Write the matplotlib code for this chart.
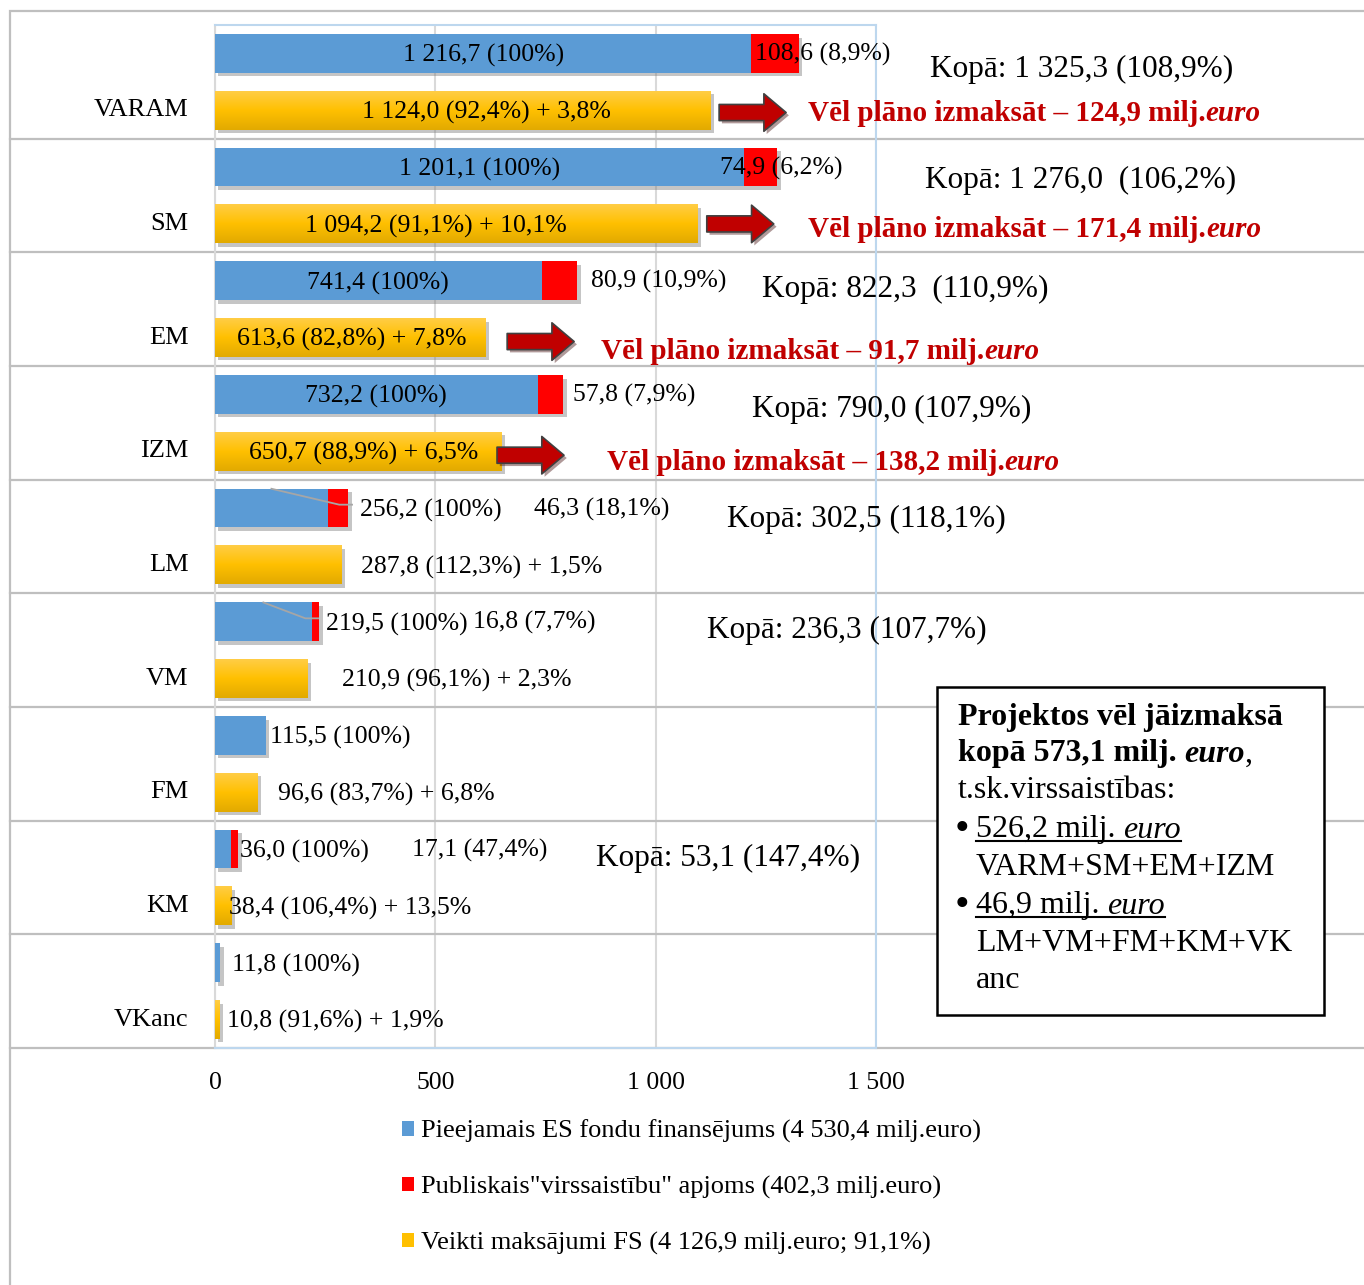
import numpy as np
import matplotlib.pyplot as plt
import matplotlib.transforms as mtransforms
import matplotlib.patheffects as pe
from matplotlib.patches import Patch, Rectangle
from matplotlib.lines import Line2D
from matplotlib.colors import LinearSegmentedColormap

plt.rcParams['font.family'] = ['Liberation Serif', 'DejaVu Serif']

# --- data (milj. euro) ---
categories = ['VARAM', 'SM', 'EM', 'IZM', 'LM', 'VM', 'FM', 'KM', 'VKanc']
available = [1216.7, 1201.1, 741.4, 732.2, 256.2, 219.5, 115.5, 36.0, 11.8]
overcommit = [108.6, 74.9, 80.9, 57.8, 46.3, 16.8, 0.0, 17.1, 0.0]
paid = [1124.0, 1094.2, 613.6, 650.7, 287.8, 210.9, 96.6, 38.4, 10.8]

blue_labels = ['1 216,7 (100%)', '1 201,1 (100%)', '741,4 (100%)', '732,2 (100%)',
               '256,2 (100%)', '219,5 (100%)', '115,5 (100%)', '36,0 (100%)', '11,8 (100%)']
red_labels = ['108,6 (8,9%)', '74,9 (6,2%)', '80,9 (10,9%)', '57,8 (7,9%)',
              '46,3 (18,1%)', '16,8 (7,7%)', '', '17,1 (47,4%)', '']
paid_labels = ['1 124,0 (92,4%) + 3,8%', '1 094,2 (91,1%) + 10,1%', '613,6 (82,8%) + 7,8%',
               '650,7 (88,9%) + 6,5%', '287,8 (112,3%) + 1,5%', '210,9 (96,1%) + 2,3%',
               '96,6 (83,7%) + 6,8%', '38,4 (106,4%) + 13,5%', '10,8 (91,6%) + 1,9%']
total_labels = {'VARAM': 'Kopā: 1 325,3 (108,9%)', 'SM': 'Kopā: 1 276,0  (106,2%)',
                'EM': 'Kopā: 822,3  (110,9%)', 'IZM': 'Kopā: 790,0 (107,9%)',
                'LM': 'Kopā: 302,5 (118,1%)', 'VM': 'Kopā: 236,3 (107,7%)',
                'KM': 'Kopā: 53,1 (147,4%)'}
still_to_pay = {'VARAM': '124,9', 'SM': '171,4', 'EM': '91,7', 'IZM': '138,2'}

legend_labels = ['Pieejamais ES fondu finansējums (4 530,4 milj.euro)',
                 'Publiskais"virssaistību" apjoms (402,3 milj.euro)',
                 'Veikti maksājumi FS (4 126,9 milj.euro; 91,1%)']
xticks = [0, 500, 1000, 1500]
xtick_labels = ['0', '500', '1 000', '1 500']

# --- label placement (data x, left aligned); None = centred in bar ---
blue_lab_x = [None, None, None, None, 329, 252, 125, 57, 39]
red_lab_x = [1225, 1146, 853, 812, 724, 585, None, 447, None]
paid_lab_x = [334, 204, 50, 77, 331, 288, 143, 32, 27]
total_pos = {'VARAM': (1622, -0.11), 'SM': (1611, -0.135), 'EM': (1241, -0.17),
             'IZM': (1218, -0.12), 'LM': (1162, -0.15), 'VM': (1116, -0.17),
             'KM': (865, -0.17)}
arrow_pos = {'VARAM': (1144, 0.27), 'SM': (1116, 0.25), 'EM': (663, 0.285), 'IZM': (640, 0.285)}
note_pos = {'VARAM': (1346, 0.28), 'SM': (1346, 0.30), 'EM': (876, 0.37), 'IZM': (889, 0.35)}

BLUE, RED, YELLOW = '#5B9BD5', '#FF0000', '#FFC000'
DARKRED = '#C00000'
W, H = 1364, 1285

fig = plt.figure(figsize=(W / 100, H / 100), dpi=100)
ax = fig.add_axes([215 / W, 1 - 1048 / H, 661 / W, (1048 - 25) / H])

n = len(categories)
pos = np.arange(n)
bh = 0.34
shadow = [pe.SimplePatchShadow(offset=(2.5, -2.5), shadow_rgbFace='#7f7f7f', alpha=0.45), pe.Normal()]

b1 = ax.barh(pos - 0.25, available, height=bh, color=BLUE, zorder=3)
b2 = ax.barh(pos - 0.25, overcommit, left=available, height=bh, color=RED, zorder=3)
b3 = ax.barh(pos + 0.25, paid, height=bh, color=YELLOW, zorder=3)
for bars in (b1, b3):
    for r in bars:
        r.set_path_effects(shadow)
for r, v in zip(b2, overcommit):
    if v > 0:
        r.set_path_effects(shadow)

# yellow gradient
ycmap = LinearSegmentedColormap.from_list('yel', ['#FFCD45', '#FFC000', '#E2AA00'])
grad = np.linspace(0, 1, 64).reshape(-1, 1)
for r in b3:
    x0, y0 = r.get_x(), r.get_y()
    ax.imshow(grad, cmap=ycmap, aspect='auto', origin='upper', zorder=3.5,
              extent=(x0, x0 + r.get_width(), y0 + r.get_height(), y0), interpolation='bilinear')

ax.set_xlim(0, 1500)
ax.set_ylim(n - 0.5, -0.5)

# axes styling
ax.set_xticks(xticks)
ax.set_xticklabels(xtick_labels, fontsize=18.5)
ax.tick_params(axis='x', length=0, pad=17)
ax.set_yticks([])
ax.xaxis.grid(True, color='#D9D9D9', lw=1.5, zorder=0)
ax.set_axisbelow(True)
for s in ('top', 'right', 'bottom'):
    ax.spines[s].set_color('#BDD7EE')
    ax.spines[s].set_linewidth(1.5)
ax.spines['left'].set_color('#D9D9D9')
ax.spines['left'].set_linewidth(1.5)

# row separators across the whole figure width
trans = mtransforms.blended_transform_factory(fig.transFigure, ax.transData)
for b in np.arange(n) + 0.5:
    ax.add_line(Line2D([10 / W, 1], [b, b], transform=trans, color='#BFBFBF', lw=1.6,
                       clip_on=False, zorder=1))
fig.patches.append(Rectangle((10 / W, -0.5), 2, 1.5 - 11 / H, transform=fig.transFigure,
                             fill=False, ec='#BFBFBF', lw=1.6))

FS = 18.5
for i, cat in enumerate(categories):
    yb, yy = i - 0.25, i + 0.25
    ax.text(-60, yy, cat, ha='right', va='center', fontsize=19)
    if blue_lab_x[i] is None:
        ax.text(available[i] / 2, yb + 0.02, blue_labels[i], ha='center', va='center', fontsize=FS, zorder=5)
    else:
        ax.text(blue_lab_x[i], yb + 0.02, blue_labels[i], ha='left', va='center', fontsize=FS, zorder=5)
    if red_lab_x[i] is not None:
        ax.text(red_lab_x[i], yb + 0.01, red_labels[i], ha='left', va='center', fontsize=FS, zorder=5)
    ax.text(paid_lab_x[i], yy + 0.02, paid_labels[i], ha='left', va='center', fontsize=FS, zorder=5)

# leader lines of moved labels
for i in (4, 5):
    lx = blue_lab_x[i]
    yb = i - 0.25
    ax.plot([available[i] / 2, lx - 47, lx - 18], [yb - 0.17, yb - 0.03, yb - 0.03],
            color='#A6A6A6', lw=1.3, zorder=4)

# totals
for cat, txt in total_labels.items():
    i = categories.index(cat)
    x, dy = total_pos[cat]
    ax.text(x, i + dy, txt, ha='left', va='center', fontsize=22.5, zorder=5)

# arrows and notes
for cat, amount in still_to_pay.items():
    i = categories.index(cat)
    x, dy = arrow_pos[cat]
    ax.annotate('', xy=(x + 152, i + dy), xytext=(x, i + dy),
                arrowprops=dict(arrowstyle='simple,head_length=0.8,head_width=1.35,tail_width=0.58',
                                fc=DARKRED, ec='#404040', lw=1.2, mutation_scale=20,
                                shrinkA=0, shrinkB=0, path_effects=[
                                    pe.SimplePatchShadow(offset=(2, -2), alpha=0.4), pe.Normal()]),
                zorder=6)
    nx, ndy = note_pos[cat]
    t1 = ax.text(nx, i + ndy, f'Vēl plāno izmaksāt – {amount} milj.', ha='left', va='center',
                 fontsize=21, fontweight='bold', color=DARKRED)
    ax.annotate('euro', xy=(1, 0), xycoords=t1, ha='left', va='bottom', fontsize=21,
                fontweight='bold', fontstyle='italic', color=DARKRED)

# legend
handles = [Patch(facecolor=c) for c in (BLUE, RED, YELLOW)]
fig.legend(handles, legend_labels, loc='upper left', bbox_to_anchor=(402 / W, 1 - 1120 / H),
           frameon=False, fontsize=19, handlelength=0.45, handleheight=0.45,
           handletextpad=0.28, labelspacing=1.24, borderpad=0, borderaxespad=0)

# summary box (drawn in ax so texts stack above the white box)
ax.add_patch(Rectangle((937 / W, 1 - 1015 / H), (1324 - 937) / W, (1015 - 687) / H,
                       transform=fig.transFigure, fc='white', ec='black', lw=1.8,
                       zorder=10, clip_on=False))


def ftext(px, py, s, **kw):
    kw.setdefault('fontsize', 23)
    return ax.text(px / W, 1 - py / H, s, va='center', ha='left', zorder=11,
                   transform=fig.transFigure, **kw)


def after(prev, s, **kw):
    kw.setdefault('fontsize', 23)
    return ax.annotate(s, xy=(1, 0), xycoords=prev, ha='left', va='bottom', zorder=11, **kw)


ftext(958, 718, 'Projektos vēl jāizmaksā', fontweight='bold')
k1 = ftext(958, 754, 'kopā 573,1 milj. ', fontweight='bold')
k2 = after(k1, 'euro', fontweight='bold', fontstyle='italic')
after(k2, ',')
ftext(958, 791, 't.sk.virssaistības:')

underlined = []
for py, amt, lines in ((830, '526,2', ['VARM+SM+EM+IZM']), (906, '46,9', ['LM+VM+FM+KM+VK', 'anc'])):
    ftext(955, py, '•', fontsize=30)
    u1 = ftext(976, py, f'{amt} milj. ')
    u2 = after(u1, 'euro', fontstyle='italic')
    underlined.append((u1, u2))
    for j, ln in enumerate(lines):
        ftext(976, py + 37.5 * (j + 1), ln)

fig.canvas.draw()
renderer = fig.canvas.get_renderer()
inv = fig.transFigure.inverted()
for u1, u2 in underlined:
    e1 = u1.get_window_extent(renderer)
    e2 = u2.get_window_extent(renderer)
    yline = e1.y0 + 0.216 * 23 * 100 / 72 - 3
    (fx0, fy), (fx1, _) = inv.transform([(e1.x0, yline), (e2.x1, yline)])
    ax.add_line(Line2D([fx0, fx1], [fy, fy], transform=fig.transFigure, color='black',
                       lw=1.5, zorder=12, clip_on=False))

fig.savefig('out.png', dpi=100)
